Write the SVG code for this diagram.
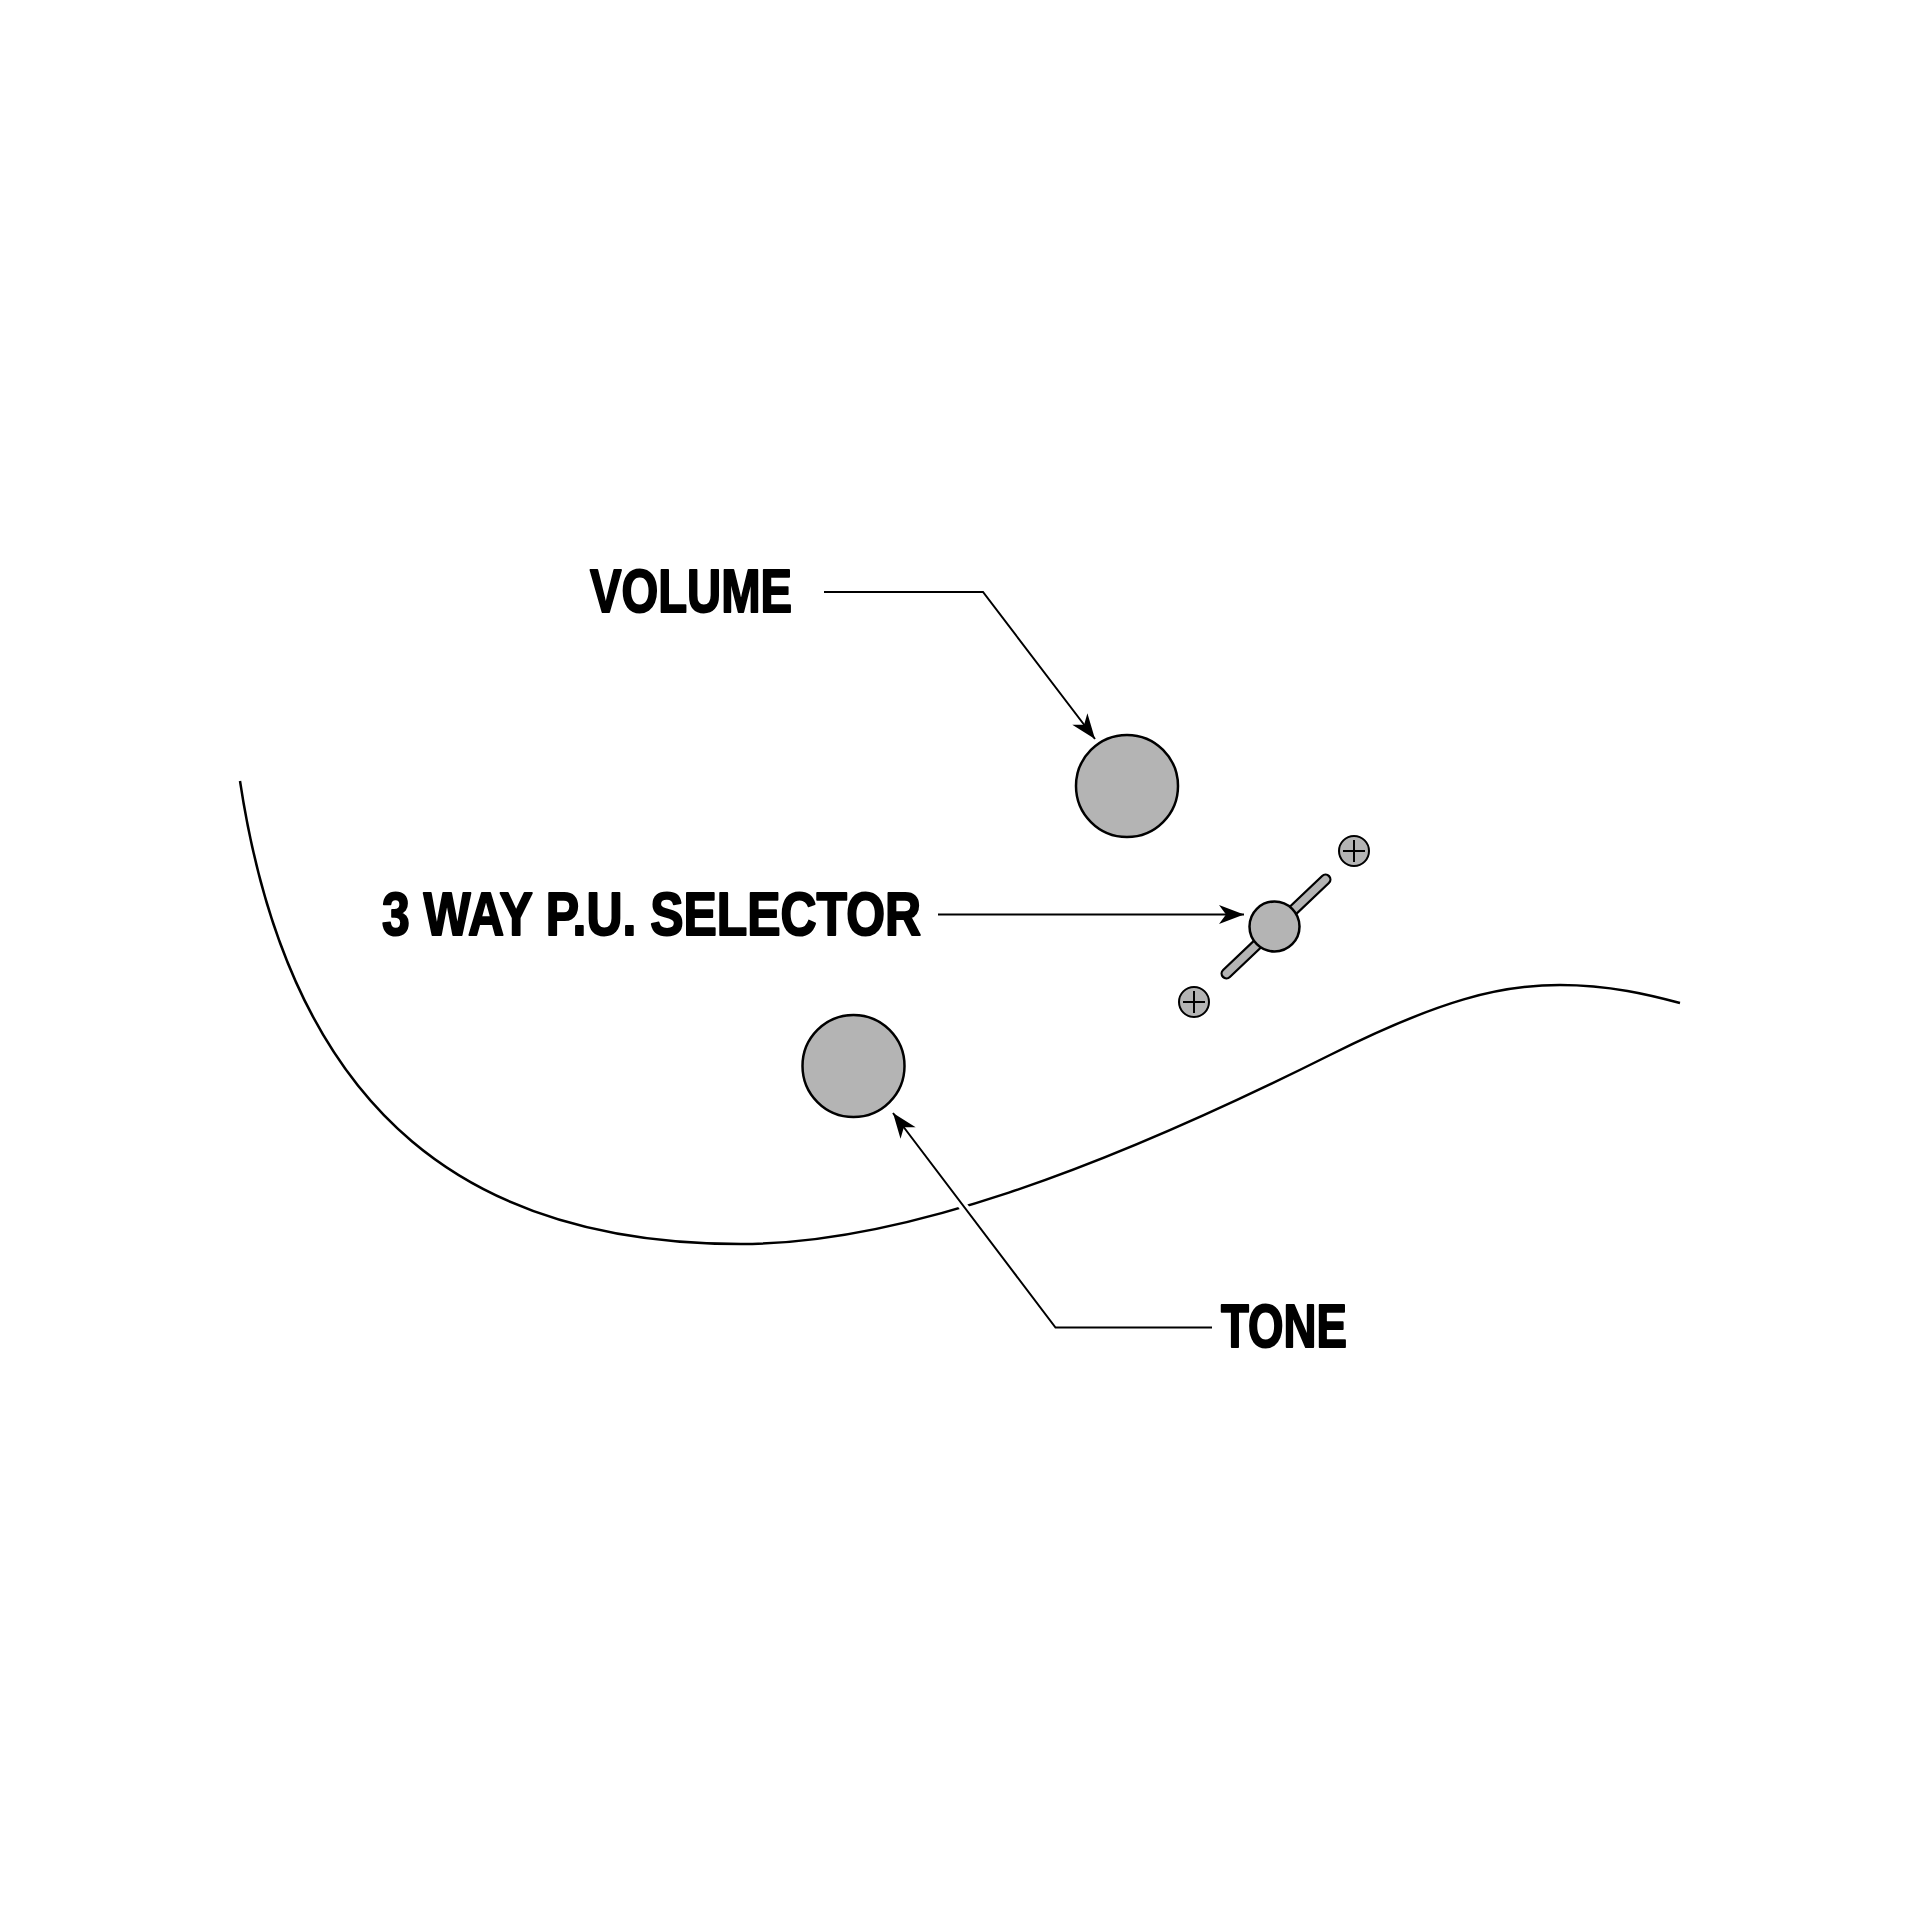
<svg xmlns="http://www.w3.org/2000/svg" width="1920" height="1920" viewBox="0 0 1920 1920">
  <style>
    .label { font-family: "Liberation Sans", Arial, sans-serif; font-weight: bold; font-size: 61px; fill: #000; stroke: #000; stroke-width: 2; stroke-linejoin: round; }
    .knob { fill: #b4b4b4; stroke: #000; stroke-width: 2.5; }
    .screw { fill: #b4b4b4; stroke: #000; stroke-width: 2; }
    .cross { stroke: #000; stroke-width: 2; fill: none; }
    .leader { fill: none; stroke: #000; stroke-width: 2; }
    .halo { fill: none; stroke: #fff; stroke-width: 9; }
    .body { fill: none; stroke: #000; stroke-width: 2.5; }
  </style>
  <defs>
    <marker id="arrow" markerUnits="userSpaceOnUse" markerWidth="30" markerHeight="24" viewBox="-26 -12 30 24" refX="0" refY="0" orient="auto">
      <path d="M0,0 L-25,-9.5 L-18,0 L-25,9.5 Z" fill="#000"/>
    </marker>
  </defs>
  <rect width="1920" height="1920" fill="#fff"/>

  <!-- guitar body outline -->
  <path id="body-outline" class="body" d="M240,781 C292,1125 480,1244 741,1244 C900,1244 1100,1170 1330,1055 C1440,1000 1500,985 1560,985 C1610,985 1650,995 1680,1003"/>

  <g id="connectors">
    <path class="leader" d="M824,592 L983,592 L1095,739" marker-end="url(#arrow)"/>
    <path class="leader" d="M938,914.5 L1244,914.5" marker-end="url(#arrow)"/>
    <path class="halo" d="M1010,1268 L960,1202"/>
    <path class="leader" d="M1212,1327.5 L1055.5,1327.5 L893,1113" marker-end="url(#arrow)"/>
  </g>

  <g id="volume">
    <text class="label" x="590" y="612" textLength="202" lengthAdjust="spacingAndGlyphs">VOLUME</text>
    <circle class="knob" cx="1127" cy="786" r="51"/>
  </g>

  <g id="selector">
    <text class="label" x="382" y="935" textLength="539" lengthAdjust="spacingAndGlyphs">3 WAY P.U. SELECTOR</text>
    <line x1="1226.5" y1="973.5" x2="1325.5" y2="879.5" stroke="#000" stroke-width="12" stroke-linecap="round"/>
    <line x1="1226.5" y1="973.5" x2="1325.5" y2="879.5" stroke="#b4b4b4" stroke-width="7.5" stroke-linecap="round"/>
    <circle class="knob" cx="1274.5" cy="926.5" r="25"/>
    <g id="screw-upper">
      <circle class="screw" cx="1354" cy="851" r="15"/>
      <path class="cross" d="M1343,851 H1365 M1354,840 V862"/>
    </g>
    <g id="screw-lower">
      <circle class="screw" cx="1194" cy="1002" r="15"/>
      <path class="cross" d="M1183,1002 H1205 M1194,991 V1013"/>
    </g>
  </g>

  <g id="tone">
    <circle class="knob" cx="853.5" cy="1066" r="51"/>
    <text class="label" x="1221" y="1347" textLength="126" lengthAdjust="spacingAndGlyphs">TONE</text>
  </g>
</svg>
